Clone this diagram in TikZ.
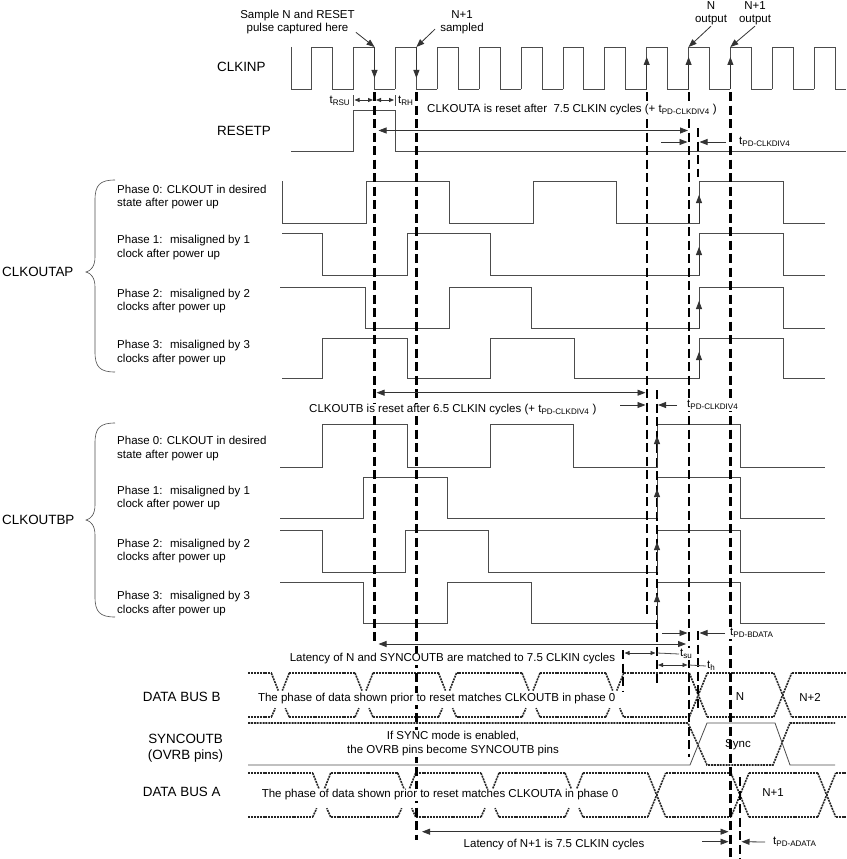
\documentclass[tikz,border=0pt]{standalone}
\usepackage{fontspec}
\setmainfont{Liberation Sans}
\usetikzlibrary{arrows.meta}

\newcommand{\clkperiod}{41.875}
\newcommand{\clkfirst}{311.7}
\tikzstyle{wave}=[draw=black!70, line width=0.8pt]
\tikzstyle{vmark}=[black, line width=2.2pt, dash pattern=on 9pt off 4.5pt]
\tikzstyle{bus}=[black!85, line width=1.6pt, dash pattern=on 2pt off 0.9pt]
\tikzstyle{dim}=[black!80, line width=0.8pt, {Triangle[length=8pt,width=6pt]}-{Triangle[length=8pt,width=6pt]}]
\tikzstyle{dimsm}=[black!80, line width=0.8pt, {Triangle[length=5pt,width=4pt]}-{Triangle[length=5pt,width=4pt]}]
\tikzstyle{tip}=[black!80, line width=0.8pt, -{Triangle[length=8pt,width=6pt]}]
\tikzstyle{small}=[font=\fontsize{11.5}{13.5}\selectfont, inner sep=1pt]
\tikzstyle{signal}=[font=\fontsize{13.4}{15.5}\selectfont, inner sep=1pt]
\tikzstyle{note}=[small, fill=white]

% bus crossing, open in the middle: x, top, bottom
\newcommand{\busgap}[3]{
    \draw[bus] (#1-9,#2) -- ++(7,{0.4*(#3-#2)});
    \draw[bus] (#1+9,#2) -- ++(-7,{0.4*(#3-#2)});
    \draw[bus] (#1-9,#3) -- ++(4,{-0.2*(#3-#2)});
    \draw[bus] (#1+9,#3) -- ++(-4,{-0.2*(#3-#2)});
}
% full bus crossing: x, top, bottom
\newcommand{\buscross}[3]{
    \draw[bus] (#1-9,#2) -- (#1+9,#3);
    \draw[bus] (#1-9,#3) -- (#1+9,#2);
}

\begin{document}
\begin{tikzpicture}[x=1pt, y=-1pt]
    \useasboundingbox (0,0) rectangle (846,859);

    % clock input
    \draw[wave] (291,47) |- (\clkfirst,89);
    \foreach \k in {0,...,12} {
        \pgfmathsetmacro\xr{\clkfirst+\k*\clkperiod}
        \pgfmathsetmacro\xf{\xr+\clkperiod/2}
        \pgfmathsetmacro\xn{min(\xr+\clkperiod,846)}
        \draw[wave] (\xr,89) |- (\xf,47) |- (\xn,89);
    }

    % reset pulse
    \draw[wave] (291,151) -| (353.3,110) -| (395,151) -- (846,151);

    % clkouta, phases 0..3
    \draw[wave] (282,181) |- (366,223) |- (449,181) |- (533,223) |- (616,181) |- (699,223) |- (783,181) |- (825,223);
    \draw[wave] (282,233) -| (322,275) -| (407,233) -| (490,275) -| (699,233) -| (783,275) -- (825,275);
    \draw[wave] (280,287) -| (365,328) -| (449,287) -| (531,328) -| (699,287) -| (783,328) -- (825,328);
    \draw[wave] (282,378) -| (322,338) -| (407,378) -| (490,338) -| (574,378) -| (699,338) -| (783,378) -- (825,378);

    % clkoutb, phases 0..3
    \draw[wave] (280,467) -| (322,424) -| (407,467) -| (490,424) -| (573,467) -| (657,424) -| (740,467) -- (825,467);
    \draw[wave] (280,518) -| (363,477) -| (447,518) -| (657,477) -| (740,518) -- (825,518);
    \draw[wave] (280,530) -| (322,572) -| (405,530) -| (488,572) -| (657,530) -| (740,572) -- (825,572);
    \draw[wave] (280,582) -| (363,623) -| (447,582) -| (531,623) -| (657,582) -| (740,623) -- (825,623);

    % data bus b
    \foreach \a/\b in {248/271.3, 289.3/355, 373/438.5, 456.5/522, 540/605.7, 623.7/689.3, 707.3/773.7, 791.7/846} {
        \draw[bus] (\a,673) -- (\b,673);
        \draw[bus] (\a,717) -- (\b,717);
    }
    \foreach \x in {280.3, 364, 447.5, 531, 614.7} \busgap{\x}{673}{717};
    \foreach \x in {698.3, 782.7} \buscross{\x}{673}{717};

    % syncoutb
    \draw[bus] (248,723) -- (688,723) -- (707,765) -- (773,765) -- (790,723) -- (835,723);
    \draw[wave] (248,765) -- (690,765) -- (707,723) -- (775,723) -- (790,765) -- (835,765);

    % data bus a
    \foreach \a/\b in {248/312.7, 330.7/397.7, 415.7/481, 499/565, 583/647.7, 665.7/731, 749/817.7, 835.7/846} {
        \draw[bus] (\a,773) -- (\b,773);
        \draw[bus] (\a,817) -- (\b,817);
    }
    \foreach \x in {321.7, 406.7, 490, 574} \busgap{\x}{773}{817};
    \foreach \x in {656.7, 740, 826.7} \buscross{\x}{773}{817};

    % sampling and timing marks
    \foreach \x/\ya/\yb in {374.5/92/645, 416.4/92/840, 646.7/92/617, 688.6/92/757, 730.4/92/859,
                            656.7/390/687, 698.3/128/177, 698.3/631/708, 623.3/650/692, 740/777/859}
        \draw[vmark] (\x,\ya) -- (\x,\yb);

    % edges of interest
    \foreach \x in {374.5, 416.4} \draw[tip] (\x,47) -- (\x,78);
    \foreach \x in {646.7, 688.6, 730.4} \draw[tip] (\x,89) -- (\x,57);
    \foreach \yt/\yb in {181/223, 233/275, 287/328, 338/378} \draw[tip] (699,\yb) -- (699,\yt+14);
    \foreach \yt/\yb in {424/467, 477/518, 530/572, 582/623} \draw[tip] (657,\yb) -- (657,\yt+12);

    % signal names
    \node[signal, anchor=west] (clkin) at (216,67) {CLKINP};
    \node[signal, anchor=west] (rstp) at (216,131) {RESETP};
    \node[signal, anchor=west] (clka) at (1,272) {CLKOUTAP};
    \node[signal, anchor=west] (clkb) at (1,519.5) {CLKOUTBP};
    \node[signal] (busb) at (181.7,697) {DATA BUS B};
    \node[signal, align=center] (sync) at (185.5,748) {SYNCOUTB\\(OVRB pins)};
    \node[signal] (busa) at (181.7,792) {DATA BUS A};

    % braces
    \draw[wave, line width=0.6pt] (115,180) .. controls (100,180) and (95,185) .. (95,200) -- (95,257)
        .. controls (95,266) and (91,271) .. (86,272) .. controls (91,273) and (95,278) .. (95,287)
        -- (95,352) .. controls (95,367) and (100,372) .. (115,372);
    \draw[wave, line width=0.6pt] (115,423) .. controls (100,423) and (95,428) .. (95,443) -- (95,505)
        .. controls (95,514) and (91,519) .. (86,520) .. controls (91,521) and (95,526) .. (95,535)
        -- (95,597) .. controls (95,612) and (100,617) .. (115,617);

    % phase descriptions
    \foreach \y/\txt in {197/{Phase 0: CLKOUT in desired\\state after power up},
                         247.5/{Phase 1:~ misaligned by 1\\clock after power up},
                         301/{Phase 2:~ misaligned by 2\\clocks after power up},
                         352.5/{Phase 3:~ misaligned by 3\\clocks after power up},
                         448.5/{Phase 0: CLKOUT in desired\\state after power up},
                         498/{Phase 1:~ misaligned by 1\\clock after power up},
                         551/{Phase 2:~ misaligned by 2\\clocks after power up},
                         603.5/{Phase 3:~ misaligned by 3\\clocks after power up}}
        \node[small, anchor=west, align=left] at (116,\y) {\txt};

    % top annotations
    \node[small, align=center] (smp) at (297.5,22) {Sample N and RESET\\pulse captured here};
    \node[small, align=center] (nsmp) at (462,22) {N+1\\sampled};
    \node[small, align=center] (nout) at (711,13) {N\\output};
    \node[small, align=center] (n1out) at (755,13) {N+1\\output};
    \coordinate (smpedge) at (374.5,47);
    \coordinate (nsmpedge) at (416.4,47);
    \coordinate (noutedge) at (688.6,47);
    \coordinate (n1outedge) at (730.4,47);
    \draw[tip] (smp.south east) ++(0,-3) -- (smpedge);
    \draw[tip] (nsmp.south west) ++(-4,-6) -- (nsmpedge);
    \draw[tip] (nout.south) -- (noutedge);
    \draw[tip] (n1out.south) -- (n1outedge);

    % reset setup and hold
    \draw[wave] (353.3,95) -- (353.3,106);
    \draw[wave] (395,95) -- (395,106);
    \draw[dimsm] (354.5,100) -- (373,100);
    \draw[dimsm] (376,100) -- (394,100);
    \node[small, anchor=east] (trsu) at (351.5,101) {t\textsubscript{RSU}};
    \node[small, anchor=west] (trh) at (397,101) {t\textsubscript{RH}};

    % clkouta reset
    \node[note, anchor=west] (resa) at (426,110) {CLKOUTA is reset after~ 7.5 CLKIN cycles (+ t\textsubscript{PD-CLKDIV4} )};
    \draw[dim] (378.5,130.5) -- (688,130.5);
    \node[small, anchor=west] (tpda) at (738,142) {t\textsubscript{PD-CLKDIV4}};
    \draw[tip] (661,142) -- (687.5,142);
    \draw[tip] ([xshift=-12pt]tpda.west) -- (699.5,142);

    % clkoutb reset
    \node[note, anchor=west] (resb) at (308,410) {CLKOUTB is reset after 6.5 CLKIN cycles (+ t\textsubscript{PD-CLKDIV4} )};
    \draw[dim] (376.5,392.7) -- (645.5,392.7);
    \node[note, anchor=west] (tpdb) at (686,405) {t\textsubscript{PD-CLKDIV4}};
    \draw[tip] (620,405) -- (645.5,405);
    \draw[tip] ([xshift=-9pt]tpdb.west) -- (658,405);

    % data bus b timing
    \node[note] (latn) at (452.5,659) {Latency of N and SYNCOUTB are matched to 7.5 CLKIN cycles};
    \draw[dim] (378.5,644) -- (686,644);
    \node[note, anchor=west] (tpdbd) at (729,633) {t\textsubscript{PD-BDATA}};
    \draw[tip] (662,633) -- (687.5,633);
    \draw[tip] ([xshift=-4pt]tpdbd.west) -- (699.5,633);
    \node[note, anchor=west] (tsu) at (679,654) {t\textsubscript{su}};
    \draw[dimsm] (624.5,653) -- (655.5,653);
    \draw[wave] (657,653) -- (tsu.west);
    \node[small, anchor=west] (th) at (706,666) {t\textsubscript{h}};
    \draw[dimsm] (658,665) -- (687.5,665);
    \draw[wave] (689,665) -- (th.west);
    \node[note] (phb) at (436.7,699) {The phase of data shown prior to reset matches CLKOUTB in phase 0};
    \node[small] (dn) at (740,697) {N};
    \node[small] (dn2) at (810,697) {N+2};

    % syncoutb notes
    \node[note, align=center] (syncnote) at (453,743.5) {If SYNC mode is enabled,\\the OVRB pins become SYNCOUTB pins};
    \node[small] (dsync) at (738,745) {Sync};

    % data bus a timing
    \node[note] (pha) at (440,795) {The phase of data shown prior to reset matches CLKOUTA in phase 0};
    \node[small] (dn1) at (773,793) {N+1};
    \node[note] (latn1) at (554,845) {Latency of N+1 is 7.5 CLKIN cycles};
    \draw[dim] (422,831.7) -- (728.5,831.7);
    \node[small, anchor=west] (tpdad) at (772,842) {t\textsubscript{PD-ADATA}};
    \draw[tip] (702,841.7) -- (728.5,841.7);
    \draw[tip] ([xshift=-7pt]tpdad.west) -- (741.5,841.7);
\end{tikzpicture}
\end{document}
